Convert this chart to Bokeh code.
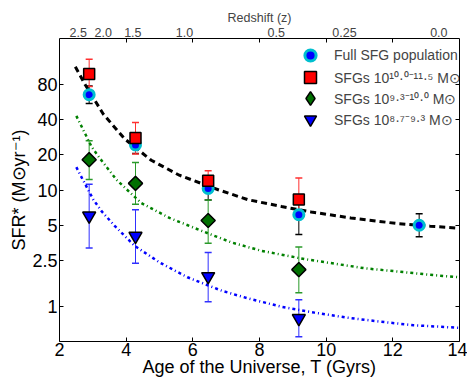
from bokeh.plotting import figure
from bokeh.models import (Range1d, FixedTicker, LinearAxis, LogAxis, Whisker, TeeHead,
                          ColumnDataSource, Legend, LegendItem)
from bokeh.embed import file_html
from bokeh.resources import INLINE

# ---------------- data ----------------
ages = [2.89, 4.28, 6.46, 9.18, 12.79]
ages4 = [2.89, 4.28, 6.46, 9.18]

sfr_all = [65.9, 24.4, 10.3, 6.14, 4.98]
sfr_all_lo = [55.3, 20.6, 8.2, 4.15, 3.97]
sfr_all_hi = [78.0, 29.0, 12.5, 8.6, 6.26]

sfr_high = [99.0, 27.9, 12.0, 8.3]
sfr_high_lo = [77.5, 20.4, 10.0, 6.3]
sfr_high_hi = [133.0, 37.9, 14.6, 12.7]

sfr_mid = [18.2, 11.4, 5.47, 2.07]
sfr_mid_lo = [12.3, 7.56, 3.49, 1.31]
sfr_mid_hi = [26.5, 17.2, 8.2, 3.24]

sfr_low = [6.0, 4.02, 1.81, 0.79]
sfr_low_lo = [3.18, 2.35, 1.10, 0.55]
sfr_low_hi = [11.2, 6.77, 2.90, 1.14]

fit_all_t = [2.475, 2.772, 3.316, 3.96, 4.753, 5.594, 6.78, 7.673, 8.66, 9.55, 10.74, 12.13, 13.12, 14.0]
fit_all = [114.6, 80.2, 44.7, 27.4, 18.0, 13.4, 10.0, 8.23, 7.22, 6.47, 5.76, 5.15, 4.89, 4.70]

fit_mid_t = [2.505, 2.97, 3.218, 3.714, 4.456, 5.297, 6.286, 7.18, 8.07, 9.36, 11.14, 13.12, 14.0]
fit_mid = [43.3, 23.3, 18.6, 12.2, 7.72, 5.76, 4.43, 3.53, 3.0, 2.55, 2.13, 1.87, 1.78]

fit_low_t = [2.505, 2.772, 3.019, 3.268, 3.663, 4.257, 5.0, 5.84, 6.88, 7.67, 8.66, 9.65, 10.64, 11.63, 12.62, 14.0]
fit_low = [15.7, 11.2, 8.23, 6.55, 4.89, 3.31, 2.39, 1.78, 1.36, 1.17, 0.994, 0.885, 0.80, 0.74, 0.69, 0.655]

x_ticks = [2, 4, 6, 8, 10, 12, 14]
top_tick_marks = [4, 6, 8, 10, 12]
y_ticks = [1, 2.5, 5, 10, 20, 40, 80]
y_tick_labels = ["1", "2.5", "5", "10", "20", "40", "80"]
z_labels = ["2.5", "2.0", "1.5", "1.0", "0.5", "0.25", "0.0"]
z_ages = [2.56, 3.31, 4.2, 5.75, 8.5, 10.55, 13.38]

legend_labels = ["Full SFG population",
                 "SFGs 10¹⁰·⁰⁻¹¹·⁵ M⊙",
                 "SFGs 10⁹·³⁻¹⁰·⁰ M⊙",
                 "SFGs 10⁸·⁷⁻⁹·³ M⊙"]

FONT = "Liberation Sans"

p = figure(width=467, height=379, output_backend="svg", toolbar_location=None,
           x_range=Range1d(2, 14), y_range=Range1d(0.5, 200), y_axis_type="log",
           min_border_left=59, min_border_right=8, min_border_top=38, min_border_bottom=36)
p.grid.visible = False
p.outline_line_color = "black"
p.outline_line_width = 1
p.background_fill_color = "white"
p.border_fill_color = "white"

xa = p.xaxis[0]
xa.ticker = FixedTicker(ticks=x_ticks)
xa.axis_label = "Age of the Universe, T (Gyrs)"
ya = p.yaxis[0]
ya.ticker = FixedTicker(ticks=y_ticks)
ya.major_label_overrides = {t: l for t, l in zip(y_ticks, y_tick_labels)}
ya.axis_label = "SFR* (M⊙yr⁻¹)"

for ax in (xa, ya):
    ax.axis_line_color = None
    ax.major_tick_in = 4
    ax.major_tick_out = 0
    ax.minor_tick_line_color = None
    ax.major_label_text_font = FONT
    ax.major_label_text_font_size = "18px"
    ax.major_label_text_color = "black"
    ax.axis_label_text_font = FONT
    ax.axis_label_text_font_size = "18px"
    ax.axis_label_text_font_style = "normal"
    ax.axis_label_text_color = "black"
    ax.major_label_standoff = 2
    ax.axis_label_standoff = 0
xa.major_label_standoff = 1
xa.axis_label_standoff = -2

# right axis: tick marks only
ra = LogAxis(ticker=FixedTicker(ticks=y_ticks), major_tick_in=4, major_tick_out=0,
             minor_tick_line_color=None, axis_line_color=None,
             major_label_text_font_size="0px", major_label_text_color=None,
             major_label_standoff=0)
p.add_layout(ra, "right")

# top: tick marks only
ta = LinearAxis(ticker=FixedTicker(ticks=top_tick_marks), major_tick_in=4, major_tick_out=0,
                minor_tick_line_color=None, axis_line_color=None,
                major_label_text_font_size="0px", major_label_text_color=None,
                major_label_standoff=0)
p.add_layout(ta, "above")
# top: redshift labels
za = LinearAxis(ticker=FixedTicker(ticks=z_ages),
                major_label_overrides={a: z for a, z in zip(z_ages, z_labels)},
                major_tick_in=0, major_tick_out=0, minor_tick_line_color=None,
                axis_line_color=None, axis_label="Redshift (z)",
                major_label_text_font=FONT, major_label_text_font_size="12.5px",
                axis_label_text_font=FONT, axis_label_text_font_size="12.5px",
                axis_label_text_font_style="normal", major_label_standoff=2,
                axis_label_standoff=0)
p.add_layout(za, "above")

# fits
p.line(fit_all_t, fit_all, line_color="black", line_width=3, line_dash="6 4")
p.line(fit_mid_t, fit_mid, line_color="#008000", line_width=2.5, line_dash="3 3 1 3")
p.line(fit_low_t, fit_low, line_color="#0000ff", line_width=2.5, line_dash="3 3 1 3")

# error bars
def errbar(x, lo, hi, color):
    src = ColumnDataSource(dict(x=x, lo=lo, hi=hi))
    w = Whisker(source=src, base="x", lower="lo", upper="hi", dimension="height",
                line_color=color, line_width=1,
                lower_head=TeeHead(size=7, line_color=color, line_width=1.5),
                upper_head=TeeHead(size=7, line_color=color, line_width=1.5))
    p.add_layout(w)

errbar(ages, sfr_all_lo, sfr_all_hi, "black")
errbar(ages4, sfr_high_lo, sfr_high_hi, "#ff3030")
errbar(ages4, sfr_mid_lo, sfr_mid_hi, "#2a9a2a")
errbar(ages4, sfr_low_lo, sfr_low_hi, "#3030ff")

r_all = p.scatter(ages, sfr_all, marker="circle", size=10, fill_color="#0000ff",
                  line_color="#00bfcf", line_width=3)
r_high = p.scatter(ages4, sfr_high, marker="square", size=11, fill_color="#ff0000",
                   line_color="black", line_width=1.5)
r_mid = p.scatter(ages4, sfr_mid, marker="square", size=10, angle=0.785398, fill_color="#007000",
                  line_color="black", line_width=1.5)
r_low = p.scatter(ages4, sfr_low, marker="inverted_triangle", size=13, fill_color="#0000ff",
                  line_color="black", line_width=1.5)
# legend glyph for the diamond series (legends draw markers unrotated)
r_mid_leg = p.scatter(ages4, sfr_mid, marker="diamond", size=14, fill_color="#007000",
                      line_color="black", line_width=1.5, visible=False)

# one legend per row so that marker size and row pitch can both match
row_vy = [271, 249, 228, 207]
row_box = [28, 30, 34, 30]
for lab, r, vy, box in zip(legend_labels, [r_all, r_high, r_mid_leg, r_low], row_vy, row_box):
    lg = Legend(items=[LegendItem(label=lab, renderers=[r])],
                location=(251 - box // 2, vy + (30 - box) // 2),
                glyph_width=box, glyph_height=box, spacing=0,
                padding=0, label_standoff=24 - box // 2, border_line_color=None,
                background_fill_alpha=0, label_text_font=FONT,
                label_text_font_size="14px", label_height=box,
                inactive_fill_alpha=0)
    p.add_layout(lg)

open("out.html", "w").write(file_html(p, INLINE))
